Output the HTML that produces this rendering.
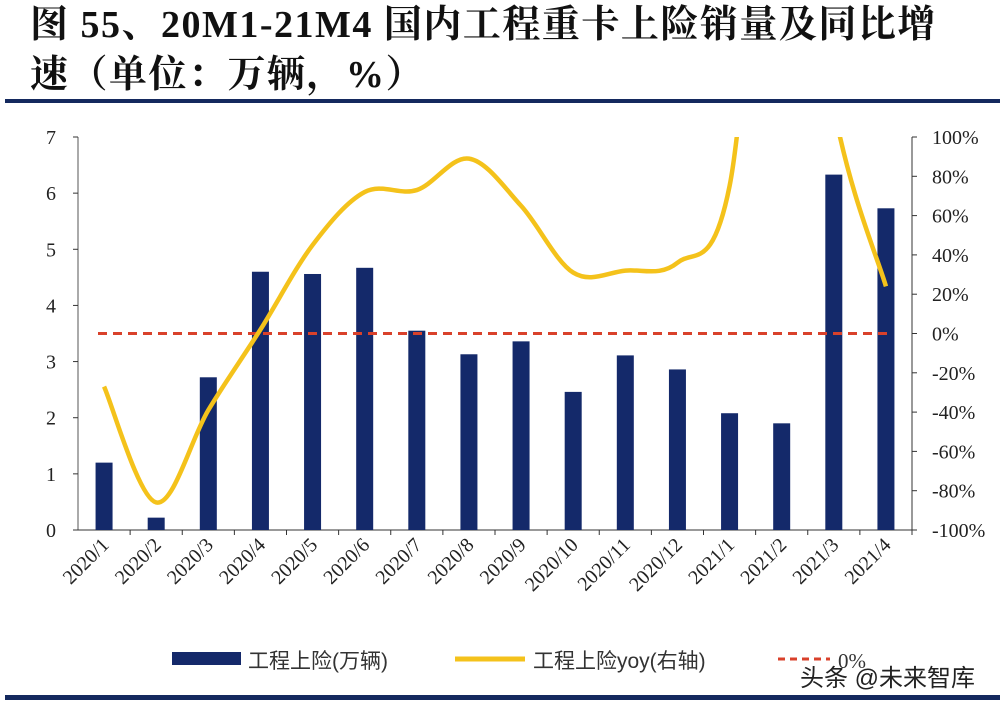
<!DOCTYPE html>
<html><head><meta charset="utf-8">
<style>
body{margin:0;background:#fff;width:1000px;height:706px;overflow:hidden;position:relative;font-family:"Liberation Serif","Noto Serif CJK SC",serif;}
.title{position:absolute;left:30px;top:0px;font-size:38px;font-weight:bold;line-height:50px;color:#111;font-family:"Liberation Serif","Noto Serif CJK SC",serif;letter-spacing:1.5px;white-space:nowrap}
.rule{position:absolute;left:5px;width:995px;background:#14295e}
</style></head><body>
<div class="title">图 55、20M1-21M4 国内工程重卡上险销量及同比增<br>速（单位：万辆，%）</div>
<div class="rule" style="top:99px;height:4px"></div>
<div class="rule" style="top:695px;height:5px"></div>
<svg id="c" width="1000" height="706" style="position:absolute;left:0;top:0"></svg>
<script>
const categories=["2020/1","2020/2","2020/3","2020/4","2020/5","2020/6","2020/7","2020/8","2020/9","2020/10","2020/11","2020/12","2021/1","2021/2","2021/3","2021/4"];
const sales=[1.2,0.22,2.72,4.6,4.56,4.67,3.55,3.13,3.36,2.46,3.11,2.86,2.08,1.9,6.33,5.73];
const yoy=[-27,-86,-39,2,45,72,73,89,65,31,32,36,75,300,115,24];
const leftTicks=[0,1,2,3,4,5,6,7];
const rightTicks=[-100,-80,-60,-40,-20,0,20,40,60,80,100];
const svg=document.getElementById('c');const NS='http://www.w3.org/2000/svg';
function mk(t,a,p){const e=document.createElementNS(NS,t);for(const k in a)e.setAttribute(k,a[k]);(p||svg).appendChild(e);return e;}
const x0=78,x1=912,yB=530,yT=137;
const step=(x1-x0)/categories.length;
const xs=i=>x0+step*(i+0.5);
const yL=v=>yB-(v/7)*(yB-yT);
const yR=v=>yB-((v+100)/200)*(yB-yT);
const defs=mk('defs',{});const cp=mk('clipPath',{id:'cl'},defs);mk('rect',{x:x0,y:yT,width:x1-x0,height:yB-yT},cp);
let e=mk('line',{x1:x0,y1:yT,x2:x0,y2:yB,stroke:'#555','stroke-width':1});
e=mk('line',{x1:x1,y1:yT,x2:x1,y2:yB,stroke:'#333','stroke-width':1});
e=mk('line',{x1:x0,y1:yB,x2:x1,y2:yB,stroke:'#333','stroke-width':1});
leftTicks.forEach(v=>{const t=mk('text',{x:x0-22,y:yL(v)+7,'text-anchor':'end','font-size':20,fill:'#222'});t.textContent=v;

mk('line',{x1:x0-5,y1:yL(v),x2:x0,y2:yL(v),stroke:'#333'});});
rightTicks.forEach(v=>{const t=mk('text',{x:x1+20,y:yR(v)+7,'font-size':20,fill:'#222'});t.textContent=v+'%';

mk('line',{x1:x1,y1:yR(v),x2:x1+5,y2:yR(v),stroke:'#333'});});
categories.forEach((c,i)=>{const x=xs(i);mk('line',{x1:x0+step*(i+1),y1:yB,x2:x0+step*(i+1),y2:yB+5,stroke:'#333'});
const t=mk('text',{x:x+6,y:yB+16,'text-anchor':'end','font-size':20,fill:'#222',transform:`rotate(-45 ${x+6} ${yB+16})`});t.textContent=c;
});
const bw=17;
sales.forEach((v,i)=>{const b=mk('rect',{x:xs(i)-bw/2,y:yL(v),width:bw,height:yB-yL(v),fill:'#14296a'});
});
e=mk('line',{x1:x0+20,y1:yR(0),x2:x1-20,y2:yR(0),stroke:'#d9412b','stroke-width':3,'stroke-dasharray':'9 6'});

const pts=yoy.map((v,i)=>[xs(i),yR(v)]);
let d='M'+pts[0][0]+','+pts[0][1];
for(let i=0;i<pts.length-1;i++){const p0=pts[Math.max(0,i-1)],p1=pts[i],p2=pts[i+1],p3=pts[Math.min(pts.length-1,i+2)];
const c1=[p1[0]+(p2[0]-p0[0])/6,p1[1]+(p2[1]-p0[1])/6],c2=[p2[0]-(p3[0]-p1[0])/6,p2[1]-(p3[1]-p1[1])/6];
d+=`C${c1[0]},${c1[1]} ${c2[0]},${c2[1]} ${p2[0]},${p2[1]}`;}
e=mk('path',{d:d,fill:'none',stroke:'#f4c21b','stroke-width':4.5,'clip-path':'url(#cl)'});

const lg=mk('g',{});
mk('rect',{x:172,y:652,width:69,height:13,fill:'#14296a'},lg);
let t=mk('text',{x:248,y:668,'font-size':21,fill:'#333','font-family':'Liberation Sans,Noto Sans CJK SC,sans-serif'},lg);t.textContent='工程上险(万辆)';

mk('line',{x1:455,y1:659,x2:525,y2:659,stroke:'#f4c21b','stroke-width':5},lg);
t=mk('text',{x:533,y:668,'font-size':21,fill:'#333','font-family':'Liberation Sans,Noto Sans CJK SC,sans-serif'},lg);t.textContent='工程上险yoy(右轴)';

mk('line',{x1:778,y1:659,x2:830,y2:659,stroke:'#d9412b','stroke-width':3,'stroke-dasharray':'7 5'},lg);
t=mk('text',{x:838,y:668,'font-size':21,fill:'#333'},lg);t.textContent='0%';
t=mk('text',{x:800,y:686,'font-size':24,fill:'#222','font-family':'Liberation Sans,Noto Sans CJK SC,sans-serif'});t.textContent='头条 @未来智库';

</script>
</body></html>
